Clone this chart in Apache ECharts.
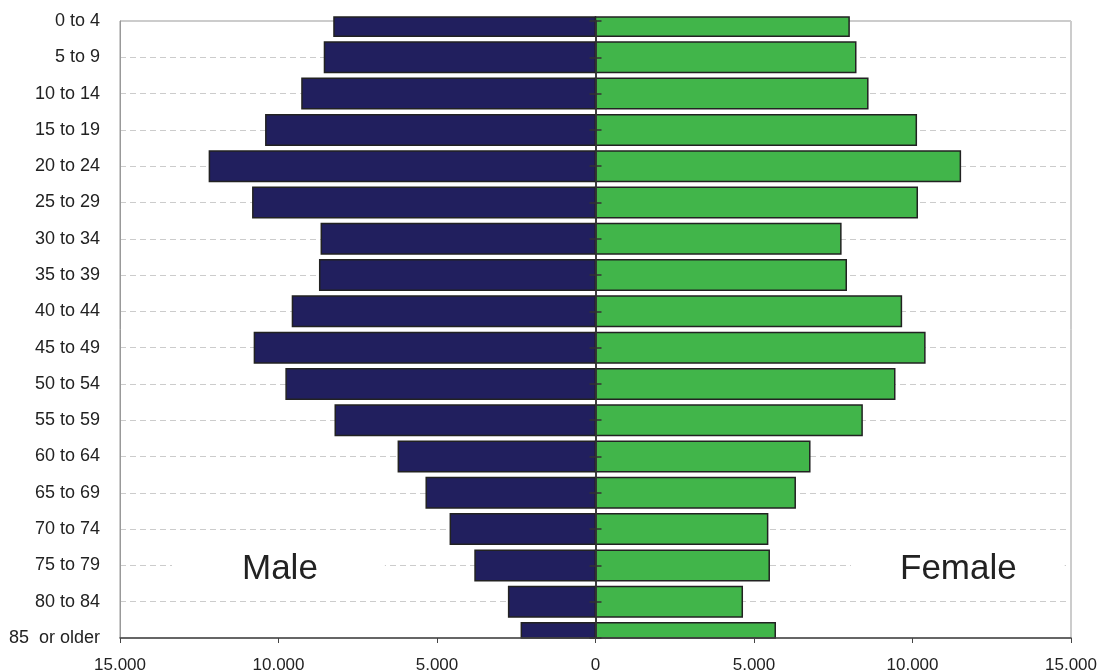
<!DOCTYPE html>
<html>
<head>
<meta charset="utf-8">
<script src="https://cdn.jsdelivr.net/npm/echarts@6/dist/echarts.min.js"></script>
<style>
html,body{margin:0;padding:0;background:#fff;}
#chart{width:1101px;height:670px;}
</style>
</head>
<body>
<div id="chart"></div>
<script>
const ageGroups = ['0 to 4','5 to 9','10 to 14','15 to 19','20 to 24','25 to 29','30 to 34','35 to 39','40 to 44','45 to 49','50 to 54','55 to 59','60 to 64','65 to 69','70 to 74','75 to 79','80 to 84','85  or older'];
const male = [8250,8550,9260,10400,12180,10810,8650,8700,9560,10760,9760,8210,6220,5340,4580,3800,2740,2340];
const female = [8000,8210,8590,10120,11510,10150,7740,7910,9650,10390,9440,8410,6760,6300,5430,5480,4630,5670];
const xTicks = [-15000,-10000,-5000,0,5000,10000,15000];

const fontFam = '"Liberation Sans", Arial, sans-serif';
const chart = echarts.init(document.getElementById('chart'));
const fmt = v => Math.abs(v).toLocaleString('en-US');

function makeRender(fill) {
  return function (params, api) {
    const cat = api.value(0);
    const val = api.value(1);
    const p0 = api.coord([0, cat]);
    const p1 = api.coord([val, cat]);
    const band = api.size([0, 1])[1];
    const h = band * 0.84;
    const cs = params.coordSys;
    const shape = echarts.graphic.clipRectByRect(
      {x: Math.min(p0[0], p1[0]), y: p0[1] - h / 2, width: Math.abs(p1[0] - p0[0]), height: h},
      {x: cs.x, y: cs.y - 4, width: cs.width, height: cs.height + 4}
    );
    return shape && {type: 'rect', shape: shape, style: {fill: fill, stroke: '#222', lineWidth: 1.5}};
  };
}

chart.setOption({
  animation: false,
  grid: {left: 120, right: 30, top: 21, bottom: 32, containLabel: false, outerBoundsMode: 'none', show: true, borderColor: '#999', borderWidth: 1, backgroundColor: 'transparent'},
  xAxis: {
    type: 'value', min: xTicks[0], max: xTicks[xTicks.length-1], interval: 5000, z: 10,
    axisLine: {show: true, onZero: false, lineStyle: {color: '#444', width: 1.5}},
    axisTick: {show: true, length: 5, lineStyle: {color: '#444'}},
    axisLabel: {formatter: fmt, color: '#222', fontSize: 17, fontFamily: fontFam, margin: 19},
    splitLine: {show: false}
  },
  yAxis: [
    {
      type: 'category', data: ageGroups, inverse: true, boundaryGap: false,
      axisLine: {show: true, onZero: false, lineStyle: {color: '#999'}},
      axisTick: {show: false},
      axisLabel: {color: '#222', fontSize: 18, fontFamily: fontFam, margin: 20},
      splitLine: {show: true, lineStyle: {color: '#ccc', type: [6, 4], width: 1}}
    },
    {
      type: 'category', data: ageGroups, inverse: true, boundaryGap: false, position: 'left', z: 10,
      axisLine: {show: true, onZero: true, onZeroAxisIndex: 0, lineStyle: {color: '#333', width: 1.5}},
      axisTick: {show: true, length: 6, lineStyle: {color: '#333', width: 1.5}},
      axisLabel: {show: false},
      splitLine: {show: false}
    },
    {
      type: 'category', data: ageGroups, inverse: true, boundaryGap: false, position: 'left', z: 10,
      axisLine: {show: true, onZero: true, onZeroAxisIndex: 0, lineStyle: {color: '#333', width: 1.5}},
      axisTick: {show: true, inside: true, length: 6, lineStyle: {color: '#333', width: 1.5}},
      axisLabel: {show: false},
      splitLine: {show: false}
    }
  ],
  series: [
    {
      name: 'Male', type: 'custom', renderItem: makeRender('#211f5e'), z: 2,
      encode: {x: 1, y: 0},
      data: male.map((v, i) => [i, -v])
    },
    {
      name: 'Female', type: 'custom', renderItem: makeRender('#41b54a'), z: 2,
      encode: {x: 1, y: 0},
      data: female.map((v, i) => [i, v])
    }
  ],
  graphic: [
    {type: 'text', left: 172, top: 550, z: 1, style: {text: 'Male', fontSize: 35, fontFamily: fontFam, fill: '#222', backgroundColor: '#fff', padding: [2, 67, 2, 70]}},
    {type: 'text', left: 851, top: 550, z: 1, style: {text: 'Female', fontSize: 35, fontFamily: fontFam, fill: '#222', backgroundColor: '#fff', padding: [2, 48, 2, 49]}}
  ]
});
</script>
</body>
</html>
